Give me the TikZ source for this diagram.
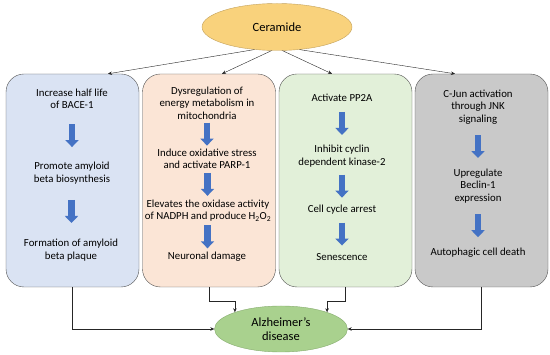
\documentclass[tikz,border=0pt]{standalone}
\usepackage{fontspec}
\setmainfont{Carlito}
\usetikzlibrary{positioning,arrows.meta,calc,shapes.geometric}
\definecolor{bluebox}{HTML}{DAE3F3}
\definecolor{peachbox}{HTML}{FBE5D6}
\definecolor{greenbox}{HTML}{E2F0D9}
\definecolor{graybox}{HTML}{C9C9C9}
\definecolor{boxline}{HTML}{505050}
\definecolor{cerfill}{HTML}{F9D27C}
\definecolor{cerline}{HTML}{C2A15C}
\definecolor{alzfill}{HTML}{A9D18E}
\definecolor{alzline}{HTML}{86AC6E}
\definecolor{flowblue}{HTML}{4472C4}
\tikzset{
  column/.style={draw=boxline,rounded corners=18pt,minimum width=133pt,minimum height=213pt,inner sep=0pt},
  step text/.style={font=\fontsize{10.8}{12.5}\selectfont,align=center,inner sep=0pt},
  blockarr/.style={flowblue,line width=6.5pt,-{Triangle[width=13pt,length=7pt]}},
  link/.style={-{Stealth[length=4pt,width=3.5pt]},thin,black!85}
}

\begin{document}
\begin{tikzpicture}[x=1pt,y=-1pt]
  \useasboundingbox (0,0) rectangle (550,355);
  % top and bottom
  \node[ellipse,draw=cerline,fill=cerfill,minimum width=150pt,minimum height=47pt,inner sep=0pt,font=\fontsize{12.5}{15}\selectfont] (cer) at (277,27) {Ceramide};
  \node[ellipse,draw=alzline,fill=alzfill,minimum width=133pt,minimum height=46pt,inner sep=0pt,align=center,font=\fontsize{12.5}{14.5}\selectfont] (alz) at (281,329) {Alzheimer’s\\disease};

  % the four columns
  \node[column,fill=bluebox] (b1) at (72.5,180.5) {};
  \node[column,fill=peachbox] (b2) at (209,180.5) {};
  \node[column,fill=greenbox] (b3) at (345.5,180.5) {};
  \node[column,fill=graybox] (b4) at (481.5,180.5) {};

  \node[step text] (bace) at (72,99) {Increase half life\\of BACE-1};
  \node[step text] (abeta) at (72,173) {Promote amyloid\\beta biosynthesis};
  \node[step text] (plaque) at (71,250) {Formation of amyloid\\beta plaque};

  \node[step text] (dysreg) at (207,103) {Dysregulation of\\energy metabolism in\\mitochondria};
  \node[step text] (oxstr) at (207,159) {Induce oxidative stress\\and activate PARP-1};
  \node[step text] (nadph) at (208,210.5) {Elevates the oxidase activity\\of NADPH and produce H\textsubscript{2}O\textsubscript{2}};
  \node[step text] (neur) at (207,257) {Neuronal damage};

  \node[step text] (pp2a) at (342,98) {Activate PP2A};
  \node[step text] (cdk) at (342,156) {Inhibit cyclin\\dependent kinase-2};
  \node[step text] (arrest) at (342,210) {Cell cycle arrest};
  \node[step text] (senes) at (342,257) {Senescence};

  \node[step text] (cjun) at (478,107) {C-Jun activation\\through JNK\\signaling};
  \node[step text] (beclin) at (478,186) {Upregulate\\Beclin-1\\expression};
  \node[step text] (autoph) at (478,253) {Autophagic cell death};

  % block arrows inside the columns
  \foreach \a/\b in {bace/abeta,abeta/plaque,dysreg/oxstr,oxstr/nadph,nadph/neur,
                     pp2a/cdk,cdk/arrest,arrest/senes,cjun/beclin,beclin/autoph}
    \draw[blockarr] ($(\a.south)!.5!(\b.north)$) +(0,-11.5) -- +(0,11.5);

  % ceramide to columns
  \draw[link] (cer.-135) -- ([xshift=35.5pt]b1.north);
  \draw[link] (cer.-103) -- ([xshift=13pt]b2.north);
  \draw[link] (cer.-77) -- ([xshift=-13.5pt]b3.north);
  \draw[link] (cer.-45) -- ([xshift=-26.5pt]b4.north);

  % columns to Alzheimer's disease
  \draw[link] (b1.south) |- (alz.west);
  \draw[link] (b2.south) -- ++(0,14) -| (alz.160);
  \draw[link] (b3.south) -- ++(0,14) -| (alz.20);
  \draw[link] (b4.south) |- (alz.east);
\end{tikzpicture}
\end{document}
